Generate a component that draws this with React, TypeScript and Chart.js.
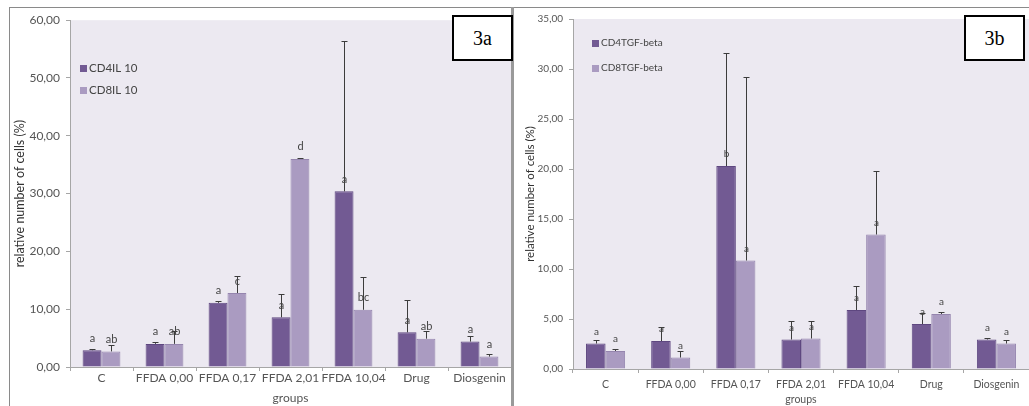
import React, { useEffect, useRef } from "react";
import { Chart, registerables } from "chart.js";

Chart.register(...registerables);

// ---------- data ----------
const groups = ["C", "FFDA 0,00", "FFDA 0,17", "FFDA 2,01", "FFDA 10,04", "Drug", "Diosgenin"];

// Panel 3a (IL 10)
const il10SeriesNames = ["CD4IL 10", "CD8IL 10"];
const cd4il10 = [2.9, 4.0, 11.1, 8.6, 30.4, 6.0, 4.4];
const cd4il10Err = [0.3, 0.4, 0.3, 4.1, 26.0, 5.6, 0.9];
const cd4il10Sig = ["a", "a", "a", "a", "a", "a", "a"];
const cd8il10 = [2.7, 4.0, 12.8, 36.0, 9.9, 4.9, 1.8];
const cd8il10Err = [1.1, 2.3, 3.0, 0.2, 5.7, 1.4, 0.4];
const cd8il10Sig = ["ab", "ab", "c", "d", "bc", "ab", "a"];
const il10Ticks = [0, 10, 20, 30, 40, 50, 60];

// Panel 3b (TGF-beta)
const tgfSeriesNames = ["CD4TGF-beta", "CD8TGF-beta"];
const cd4tgf = [2.55, 2.8, 20.3, 2.95, 5.9, 4.5, 2.95];
const cd4tgfErr = [0.35, 1.4, 11.3, 1.9, 2.4, 1.1, 0.15];
const cd4tgfSig = ["a", "a", "b", "a", "a", "a", "a"];
const cd8tgf = [1.8, 1.15, 10.85, 3.05, 13.45, 5.5, 2.55];
const cd8tgfErr = [0.25, 0.65, 18.4, 1.75, 6.4, 0.2, 0.4];
const cd8tgfSig = ["a", "a", "a", "a", "a", "a", "a"];
const tgfTicks = [0, 5, 10, 15, 20, 25, 30, 35];

const yTitle = "relative number of cells (%)";
const xTitle = "groups";

// ---------- style ----------
const FONT = "Lato, 'Open Sans', sans-serif";
const DARK = "#725A93";
const DARK_EDGE = "#5E4780";
const LIGHT = "#AA9BC1";
const LIGHT_EDGE = "#9585AE";
const PLOT_BG = "#ECE9F1";
const AXIS = "#A6A6A6";
const TEXT = "#555555";

const fmt = (v: number) => v.toFixed(2).replace(".", ",");

type Spec = {
  names: string[];
  a: number[]; aErr: number[]; aSig: string[];
  b: number[]; bErr: number[]; bSig: string[];
  ticks: number[];
  yAxisWidth: number;
  xAxisHeight: number;
  padTop: number;
  tickFont: number;
  xFont: number;
  xTickPad: number;
  titleFont: number;
  yTitlePad: number;
  xTitlePad: number;
  legendX: number;
  legendY: number;
  legendDy: number;
  legendFont: number;
  sigFont: number;
};

function buildConfig(spec: Spec): any {
  const bgPlugin = {
    id: "plotBg",
    beforeDraw(chart: any) {
      const { ctx, chartArea: a } = chart;
      ctx.save();
      ctx.fillStyle = PLOT_BG;
      ctx.fillRect(a.left, a.top, a.right - a.left, a.bottom - a.top);
      ctx.restore();
    },
  };
  const errPlugin = {
    id: "errBars",
    afterDatasetsDraw(chart: any) {
      const { ctx } = chart;
      const ys = chart.scales.y;
      chart.data.datasets.forEach((ds: any, di: number) => {
        const meta = chart.getDatasetMeta(di);
        meta.data.forEach((bar: any, i: number) => {
          const v = ds.data[i];
          const e = ds.errors[i];
          const x = Math.round(bar.x) + 0.5;
          const y0 = ys.getPixelForValue(v);
          const y1 = Math.round(ys.getPixelForValue(v + e)) + 0.5;
          ctx.save();
          ctx.strokeStyle = "#3c3c3c";
          ctx.lineWidth = 1;
          ctx.beginPath();
          ctx.moveTo(x, y0);
          ctx.lineTo(x, y1);
          ctx.moveTo(x - 3, y1);
          ctx.lineTo(x + 3, y1);
          ctx.stroke();
          ctx.fillStyle = "#444";
          ctx.font = `${spec.sigFont}px ${FONT}`;
          ctx.textAlign = "center";
          ctx.textBaseline = "middle";
          ctx.fillText(ds.sig[i], x, y0 - 12);
          ctx.restore();
        });
      });
    },
  };
  const legendPlugin = {
    id: "sideLegend",
    afterDraw(chart: any) {
      const { ctx, chartArea: a } = chart;
      ctx.save();
      chart.data.datasets.forEach((ds: any, di: number) => {
        const x = a.left + spec.legendX;
        const y = a.top + spec.legendY + di * spec.legendDy;
        ctx.fillStyle = ds.backgroundColor;
        ctx.fillRect(x, Math.round(y - 3.5), 7, 7);
        ctx.fillStyle = "#444";
        ctx.font = `${spec.legendFont}px ${FONT}`;
        ctx.textAlign = "left";
        ctx.textBaseline = "middle";
        ctx.fillText(ds.label, x + 9, y);
      });
      ctx.restore();
    },
  };

  return {
    type: "bar",
    data: {
      labels: groups,
      datasets: [
        {
          label: spec.names[0], data: spec.a, errors: spec.aErr, sig: spec.aSig,
          backgroundColor: DARK, borderColor: DARK_EDGE, borderWidth: 1,
          categoryPercentage: 0.6, barPercentage: 1.0,
        },
        {
          label: spec.names[1], data: spec.b, errors: spec.bErr, sig: spec.bSig,
          backgroundColor: LIGHT, borderColor: LIGHT_EDGE, borderWidth: 1,
          categoryPercentage: 0.6, barPercentage: 1.0,
        },
      ],
    },
    options: {
      responsive: false,
      animation: false,
      devicePixelRatio: 1,
      layout: { padding: { top: spec.padTop, right: 0, bottom: 0, left: 0 } },
      plugins: { legend: { display: false }, tooltip: { enabled: false } },
      scales: {
        x: {
          grid: { offset: true, drawOnChartArea: false, drawTicks: true, tickLength: 4, color: AXIS },
          border: { color: AXIS },
          ticks: {
            font: { family: FONT, size: spec.xFont }, color: TEXT, padding: spec.xTickPad,
            maxRotation: 0, autoSkip: false,
          },
          title: {
            display: true, text: xTitle, color: TEXT,
            font: { family: FONT, size: spec.xFont },
            padding: { top: 0, bottom: spec.xTitlePad },
          },
          afterFit: (s: any) => { s.height = spec.xAxisHeight; },
        },
        y: {
          min: spec.ticks[0],
          max: spec.ticks[spec.ticks.length - 1],
          afterBuildTicks: (s: any) => { s.ticks = spec.ticks.map((v) => ({ value: v })); },
          grid: { drawOnChartArea: false, drawTicks: true, tickLength: 4, color: AXIS },
          border: { color: AXIS },
          ticks: {
            font: { family: FONT, size: spec.tickFont }, color: TEXT, padding: 6,
            callback: (v: any) => fmt(Number(v)),
          },
          title: {
            display: true, text: yTitle, color: "#333",
            font: { family: FONT, size: spec.titleFont },
            padding: { top: spec.yTitlePad, bottom: 0 },
          },
          afterFit: (s: any) => { s.width = spec.yAxisWidth; },
        },
      },
    },
    plugins: [bgPlugin, errPlugin, legendPlugin],
  };
}

function Panel(props: { spec: Spec; left: number; top: number; width: number; height: number }) {
  const ref = useRef<HTMLCanvasElement>(null);
  useEffect(() => {
    const chart = new Chart(ref.current as HTMLCanvasElement, buildConfig(props.spec));
    return () => chart.destroy();
  }, []);
  return (
    <canvas
      ref={ref}
      width={props.width}
      height={props.height}
      style={{ position: "absolute", left: props.left, top: props.top, width: props.width, height: props.height }}
    />
  );
}

const specA: Spec = {
  names: il10SeriesNames,
  a: cd4il10, aErr: cd4il10Err, aSig: cd4il10Sig,
  b: cd8il10, bErr: cd8il10Err, bSig: cd8il10Sig,
  ticks: il10Ticks,
  yAxisWidth: 61, xAxisHeight: 39, padTop: 10,
  tickFont: 12, xFont: 12, xTickPad: 0, titleFont: 12.5, yTitlePad: 3.5, xTitlePad: 0.8,
  legendX: 10, legendY: 48, legendDy: 22, legendFont: 11.5, sigFont: 11,
};

const specB: Spec = {
  names: tgfSeriesNames,
  a: cd4tgf, aErr: cd4tgfErr, aSig: cd4tgfSig,
  b: cd8tgf, bErr: cd8tgfErr, bSig: cd8tgfSig,
  ticks: tgfTicks,
  yAxisWidth: 58, xAxisHeight: 37, padTop: 11,
  tickFont: 10, xFont: 10.5, xTickPad: 5, titleFont: 11.5, yTitlePad: 8.1, xTitlePad: 0,
  legendX: 19, legendY: 24, legendDy: 25, legendFont: 10, sigFont: 10,
};

const boxStyle = (left: number): React.CSSProperties => ({
  position: "absolute", left, top: 15, width: 57, height: 42,
  border: "2px solid #000", background: "#fff",
  fontFamily: "'Liberation Serif', 'DejaVu Serif', serif", fontSize: 20,
  display: "flex", alignItems: "center", justifyContent: "center", color: "#000",
});

export default function App() {
  return (
    <div style={{ position: "fixed", left: 0, top: 0, width: 1029, height: 406, background: "#fff", overflow: "hidden" }}>
      <div style={{ position: "absolute", left: 9, top: 7, width: 1020, height: 1, background: "#8a8a8a" }} />
      <div style={{ position: "absolute", left: 9, top: 7, width: 1, height: 399, background: "#8a8a8a" }} />
      <Panel spec={specA} left={9} top={7} width={502} height={399} />
      <Panel spec={specB} left={515} top={7} width={514} height={399} />
      <div style={{ position: "absolute", left: 511, top: 7, width: 3, height: 399, background: "#9a9a9a" }} />
      <div style={boxStyle(452)}>3a</div>
      <div style={boxStyle(964)}>3b</div>
    </div>
  );
}
